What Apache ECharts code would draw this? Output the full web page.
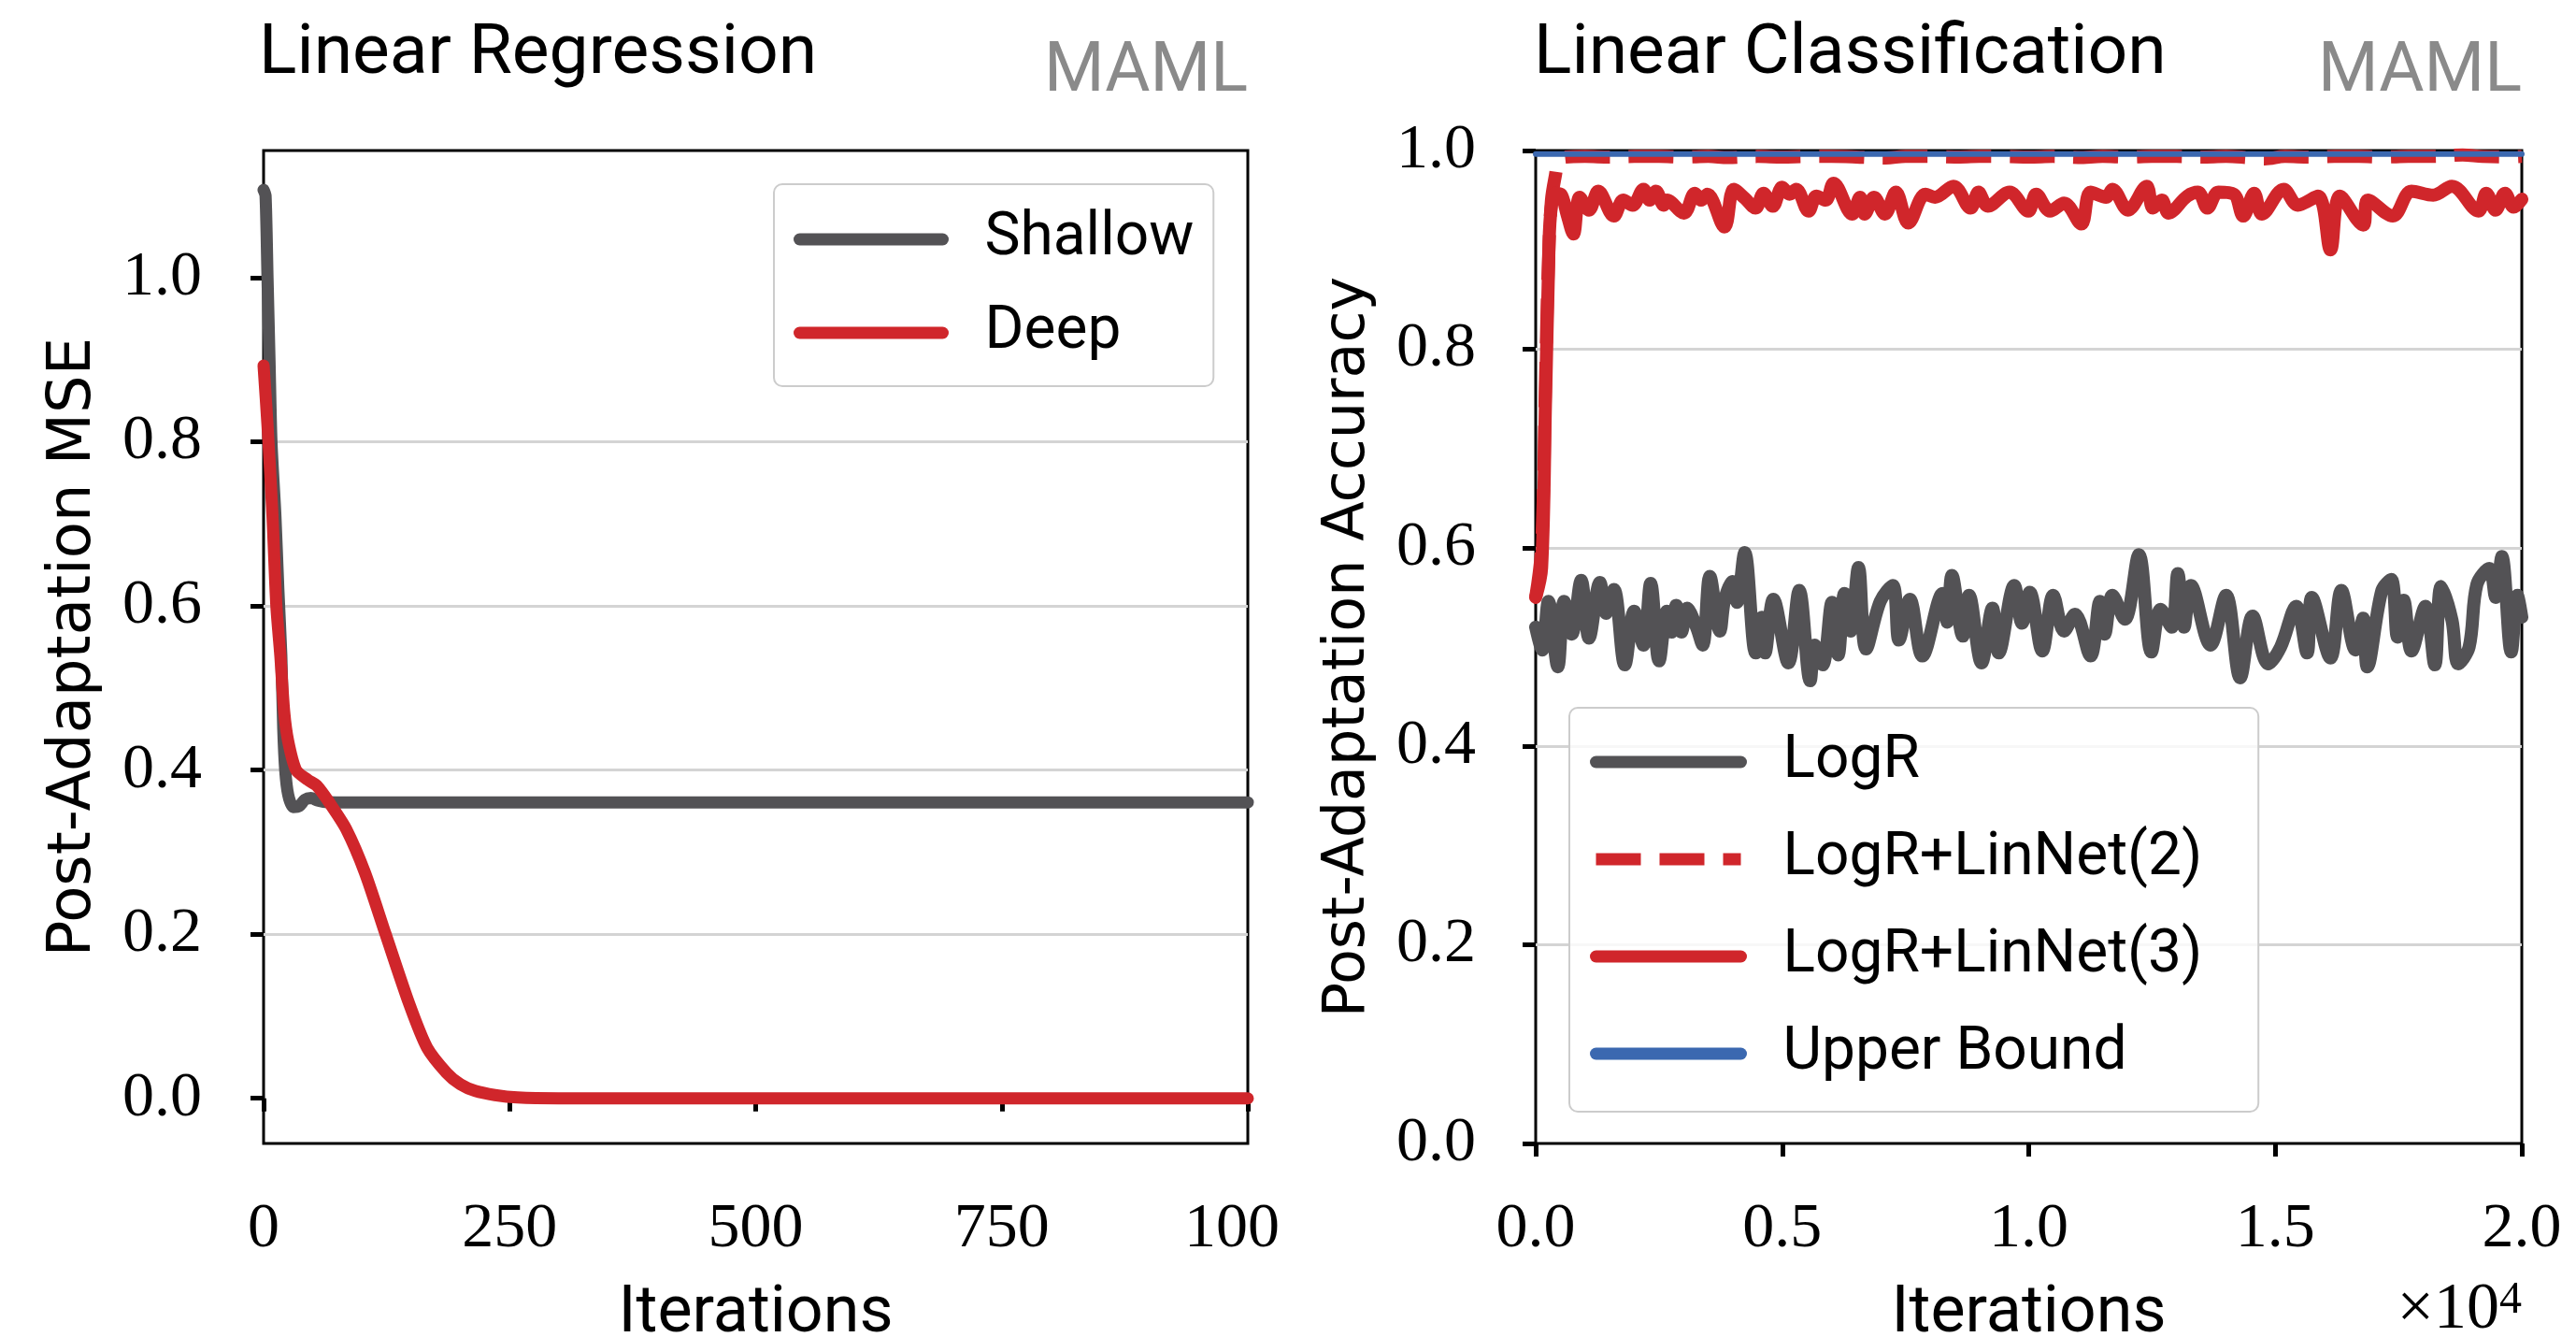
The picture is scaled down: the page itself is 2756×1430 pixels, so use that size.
<!DOCTYPE html>
<html><head><meta charset="utf-8">
<script src="https://cdn.jsdelivr.net/npm/echarts@6/dist/echarts.min.js"></script>
<style>html,body{margin:0;padding:0;background:#fff}#c{width:2756px;height:1430px}</style>
</head><body><div id="c"></div>
<script>
// ---------- Left panel: Linear Regression ----------
const shallowIter = [0, 2, 4, 6, 8, 12, 15, 18, 20, 22, 25, 30, 36, 42, 48, 55, 65, 100, 1000];
const shallowMSE  = [1.107, 1.10, 1.0, 0.9, 0.8, 0.71, 0.62, 0.54, 0.45, 0.40, 0.37, 0.355, 0.356, 0.364, 0.366, 0.363, 0.361, 0.3607, 0.3607];
const deepIter = [0, 4, 9, 13, 17, 21, 25, 33, 45, 54, 67, 84, 103, 124, 148, 166, 186, 200, 215, 235, 258, 300, 1000];
const deepMSE  = [0.893, 0.82, 0.711, 0.6, 0.54, 0.47, 0.435, 0.40, 0.388, 0.381, 0.36, 0.328, 0.275, 0.2, 0.115, 0.062, 0.031, 0.017, 0.009, 0.004, 0.001, 0, 0];
const lrXTicks = [0, 250, 500, 750, 1000];
const lrYTicks = [0, 0.2, 0.4, 0.6, 0.8, 1.0];

// ---------- Right panel: Linear Classification ----------
const logrIter = [0,133,259,449,575,733,923,1081,1302,1428,1586,1807,1997,2186,2332,2502,2660,2755,2850,2957,3071,3261,3387,3532,3735,3829,3987,4082,4240,4461,4588,4651,4821,5125,5346,5567,5662,5820,6010,6136,6262,6389,6547,6700,6989,7242,7368,7589,7842,8253,8348,8442,8664,8790,9043,9264,9390,9706,9864,10022,10275,10496,10717,10938,11254,11444,11539,11697,11949,12234,12487,12676,12900,13024,13150,13290,13687,14003,14288,14540,14856,15109,15425,15646,15741,16120,16341,16626,16783,16866,17163,17352,17479,17605,17763,18047,18237,18363,18584,18711,18932,19090,19343,19470,19596,19785,19911,20000];
const logrAcc  = [0.52,0.497,0.546,0.480,0.546,0.513,0.567,0.509,0.565,0.534,0.558,0.482,0.536,0.502,0.564,0.486,0.536,0.515,0.542,0.515,0.539,0.52,0.502,0.571,0.516,0.547,0.566,0.545,0.595,0.494,0.530,0.494,0.548,0.484,0.557,0.466,0.502,0.482,0.545,0.492,0.554,0.516,0.580,0.498,0.546,0.562,0.507,0.548,0.491,0.554,0.525,0.572,0.511,0.552,0.484,0.539,0.494,0.562,0.524,0.555,0.496,0.552,0.516,0.533,0.491,0.546,0.513,0.552,0.528,0.593,0.495,0.538,0.52,0.574,0.520,0.562,0.502,0.552,0.469,0.531,0.483,0.500,0.541,0.494,0.550,0.489,0.557,0.497,0.529,0.480,0.557,0.568,0.510,0.547,0.496,0.541,0.482,0.561,0.527,0.483,0.500,0.563,0.579,0.55,0.591,0.495,0.552,0.53];

const ln2Iter = [0,120,200,260,320,400,460,600,1000,1500,2000,2500,3000,3500,3900,4500,5000,5500,6000,6500,7100,7500,8000,8500,9000,9500,10000,10500,11000,11500,12000,12500,13000,13500,14000,14400,14787,15200,15700,16200,16700,17200,17700,18200,18800,19200,19700,20000];
const ln2Acc  = [0.55,0.60,0.77,0.89,0.95,0.975,0.988,0.9935,0.994,0.9935,0.994,0.994,0.9935,0.994,0.993,0.994,0.9935,0.994,0.994,0.9935,0.9925,0.994,0.994,0.9935,0.994,0.994,0.9935,0.994,0.993,0.994,0.9935,0.994,0.994,0.9935,0.994,0.993,0.9915,0.994,0.9935,0.994,0.994,0.9935,0.994,0.994,0.9955,0.994,0.9935,0.994];

const ln3Iter = [0,120,200,260,300,400,512,640,765,891,1081,1270,1586,1776,1965,2187,2313,2439,2597,2660,3008,3229,3355,3482,3829,4019,4240,4461,4619,4809,4998,5150,5283,5535,5693,5883,6041,6420,6578,6673,6862,7084,7305,7558,7905,8100,8474,8821,8980,9169,9611,9991,10149,10433,10717,11065,11254,11570,11697,12013,12392,12518,12700,12834,13213,13434,13624,13845,14161,14351,14572,14730,15171,15456,15867,16120,16310,16783,16878,17384,17763,18205,18584,19122,19280,19469,19659,19835,20000];
const ln3Acc  = [0.55,0.58,0.75,0.88,0.935,0.957,0.956,0.935,0.916,0.953,0.940,0.959,0.934,0.950,0.945,0.961,0.950,0.959,0.945,0.950,0.937,0.957,0.950,0.956,0.923,0.961,0.952,0.942,0.957,0.944,0.963,0.956,0.961,0.939,0.954,0.950,0.967,0.936,0.953,0.936,0.953,0.936,0.958,0.927,0.956,0.953,0.964,0.942,0.958,0.944,0.958,0.939,0.956,0.939,0.947,0.926,0.958,0.953,0.961,0.940,0.964,0.942,0.95,0.937,0.954,0.958,0.942,0.958,0.956,0.934,0.957,0.936,0.961,0.945,0.954,0.900,0.954,0.925,0.950,0.934,0.959,0.955,0.964,0.939,0.957,0.940,0.957,0.943,0.951];

const ubIter = [0, 20000];
const ubAcc  = [0.9965, 0.9965];
const lcXTicks = [0, 5000, 10000, 15000, 20000];
const lcYTicks = [0, 0.2, 0.4, 0.6, 0.8, 1.0];

const GRAY = '#535255', RED = '#d0262b', BLUE = '#3b68b0';
const zip = (a, b) => a.map((v, i) => [v, b[i]]);

const serif = "'Liberation Serif', 'Times New Roman', serif";
const sans = "Roboto, 'Liberation Sans', sans-serif";
const tickLabel = { fontFamily: serif, fontSize: 68, color: '#000' };

function lineSeries(name, xi, data, color, width, extra) {
  return Object.assign({
    type: 'line', name, xAxisIndex: xi, yAxisIndex: xi, data,
    symbol: 'none', showSymbol: false, smooth: 0.3,
    animation: false,
    lineStyle: { color, width, join: 'round', cap: 'round' },
    itemStyle: { color }
  }, extra || {});
}

const legendCommon = {
  orient: 'vertical', selectedMode: false,
  backgroundColor: 'rgba(255,255,255,0.8)', borderColor: '#cccccc', borderWidth: 2, borderRadius: 9,
  textStyle: { fontFamily: sans, fontSize: 64, lineHeight: 70, color: '#000', padding: [0, 0, 0, 40] },
  itemHeight: 14, itemStyle: { opacity: 0 }, lineStyle: { width: 13 }
};

const chart = echarts.init(document.getElementById('c'), null, { renderer: 'canvas' });
chart.setOption({
  animation: false,
  backgroundColor: '#fff',
  title: [
    { text: 'Linear Regression', left: 277, top: 22, padding: 0, textStyle: { fontFamily: sans, fontSize: 75, fontWeight: 'normal', color: '#000' } },
    { text: 'MAML', right: 1421, top: 41, padding: 0, textStyle: { fontFamily: sans, fontSize: 74, fontWeight: 'normal', color: '#8a8a8a' } },
    { text: 'Linear Classification', left: 1641, top: 22, padding: 0, textStyle: { fontFamily: sans, fontSize: 75, fontWeight: 'normal', color: '#000' } },
    { text: 'MAML', right: 58, top: 41, padding: 0, textStyle: { fontFamily: sans, fontSize: 74, fontWeight: 'normal', color: '#8a8a8a' } },
    { text: '{a|×10}{b|4}', right: 58, top: 1367, padding: 0,
      textStyle: { lineHeight: 80, fontWeight: 'normal', rich: {
        a: { fontFamily: serif, fontSize: 70, lineHeight: 70, fontWeight: 'normal', verticalAlign: 'bottom', color: '#000' },
        b: { fontFamily: serif, fontSize: 48, lineHeight: 48, fontWeight: 'normal', verticalAlign: 'top', color: '#000' } } } }
  ],
  grid: [
    { left: 282, right: 1421, top: 161, bottom: 207, show: true, borderColor: '#000', borderWidth: 3, backgroundColor: 'transparent', outerBoundsMode: 'none', containLabel: false },
    { left: 1643, right: 58, top: 161, bottom: 207, show: true, borderColor: '#000', borderWidth: 3, backgroundColor: 'transparent', outerBoundsMode: 'none', containLabel: false }
  ],
  xAxis: [
    { type: 'value', gridIndex: 0, min: 0, max: 1000, interval: 250,
      axisLine: { show: false }, splitLine: { show: false },
      axisTick: { show: true, length: 14, lineStyle: { width: 5, color: '#000' }, customValues: lrXTicks },
      axisLabel: Object.assign({ margin: 58, customValues: lrXTicks, formatter: v => String(v) }, tickLabel),
      name: 'Iterations', nameLocation: 'middle', nameGap: 148,
      nameTextStyle: { fontFamily: sans, fontSize: 70, color: '#000' } },
    { type: 'value', gridIndex: 1, min: 0, max: 20000, interval: 5000,
      axisLine: { show: false }, splitLine: { show: false },
      axisTick: { show: true, length: 14, lineStyle: { width: 5, color: '#000' }, customValues: lcXTicks },
      axisLabel: Object.assign({ margin: 58, customValues: lcXTicks, formatter: v => (v / 10000).toFixed(1) }, tickLabel),
      name: 'Iterations', nameLocation: 'middle', nameGap: 148,
      nameTextStyle: { fontFamily: sans, fontSize: 70, color: '#000' } }
  ],
  yAxis: [
    { type: 'value', gridIndex: 0, min: -0.055, max: 1.155, splitNumber: 6,
      axisLine: { show: false },
      splitLine: { show: true, showMinLine: false, showMaxLine: false, lineStyle: { color: '#d4d4d4', width: 3 } },
      axisTick: { show: true, length: 14, lineStyle: { width: 5, color: '#000' }, customValues: lrYTicks },
      axisLabel: Object.assign({ margin: 66, customValues: lrYTicks, formatter: v => v.toFixed(1) }, tickLabel),
      name: 'Post-Adaptation MSE', nameLocation: 'middle', nameGap: 171,
      nameTextStyle: { fontFamily: "'DejaVu Sans', sans-serif", fontSize: 64, color: '#000' } },
    { type: 'value', gridIndex: 1, min: 0, max: 1, interval: 0.2,
      axisLine: { show: false },
      splitLine: { show: true, showMinLine: false, showMaxLine: false, lineStyle: { color: '#d4d4d4', width: 3 } },
      axisTick: { show: true, length: 14, lineStyle: { width: 5, color: '#000' }, customValues: lcYTicks },
      axisLabel: Object.assign({ margin: 64, customValues: lcYTicks, formatter: v => v.toFixed(1) }, tickLabel),
      name: 'Post-Adaptation Accuracy', nameLocation: 'middle', nameGap: 169,
      nameTextStyle: { fontFamily: "'DejaVu Sans', sans-serif", fontSize: 62, color: '#000' } }
  ],
  legend: [
    Object.assign({}, legendCommon, { data: ['Shallow', 'Deep'], left: 828, top: 197, padding: [24, 21, 22, 21], itemWidth: 153, itemGap: 30 }),
    Object.assign({}, legendCommon, { data: ['LogR', 'LogR+LinNet(2)', 'LogR+LinNet(3)', 'Upper Bound'], left: 1679, top: 757, padding: [23, 60, 27, 22], itemWidth: 155, itemGap: 34 })
  ],
  series: [
    lineSeries('Shallow', 0, zip(shallowIter, shallowMSE), GRAY, 13, { smooth: 0.25 }),
    lineSeries('Deep', 0, zip(deepIter, deepMSE), RED, 13, { smooth: 0.25 }),
    lineSeries('LogR', 1, zip(logrIter, logrAcc), GRAY, 14, { smooth: 0.35 }),
    lineSeries('LogR+LinNet(2)', 1, zip(ln2Iter, ln2Acc), RED, 14, { smooth: 0.35, lineStyle: { color: RED, width: 14, type: [48, 20], join: 'round' } }),
    lineSeries('LogR+LinNet(3)', 1, zip(ln3Iter, ln3Acc), RED, 14, { smooth: 0.35 }),
    lineSeries('Upper Bound', 1, zip(ubIter, ubAcc), BLUE, 6, { smooth: false })
  ],
  graphic: [
    { type: 'rect', z: 100, shape: { x: 1370, y: 1268, width: 50, height: 85 }, style: { fill: '#fff' } }
  ]
});
</script>
</body></html>
